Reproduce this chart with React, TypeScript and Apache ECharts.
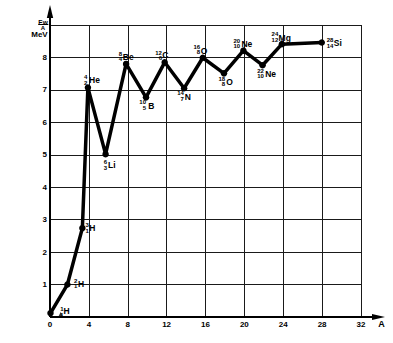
import React, { useEffect, useRef } from "react";
import * as echarts from "echarts";

// Mass number A (x) and binding energy per nucleon Ew/A in MeV (y)
const curveStart = [0.05, 0.12];
const nuclideX = [1.1, 1.79, 3.33, 3.9, 5.72, 7.83, 9.88, 11.8, 13.8, 15.72, 17.9, 19.9, 21.87, 23.86, 27.96];
const nuclideE = [0.06, 1.0, 2.74, 7.07, 5.02, 7.8, 6.77, 7.85, 7.05, 7.99, 7.51, 8.21, 7.76, 8.41, 8.46];
const nuclideMass = [1, 2, 3, 4, 6, 8, 10, 12, 14, 16, 18, 20, 22, 24, 28];
const nuclideZ = [1, 1, 1, 2, 3, 4, 5, 6, 7, 8, 8, 10, 10, 12, 14];
const nuclideSym = ["H", "H", "H", "He", "Li", "Be", "B", "C", "N", "O", "O", "Ne", "Ne", "Mg", "Si"];

const xTicks = { min: 0, max: 32, interval: 4 };
const yTicks = { min: 0, max: 9, interval: 1 };

// label placement (px offsets from the point): numbers right edge nr, center ny; symbol left sx, center sy
const labelPlacement = [
  { nr: 2.8, ny: -3, sx: 2.8, sy: -3.7 },
  { nr: 10, ny: -0.8, sx: 10.7, sy: -0.5 },
  { nr: 6.6, ny: 0, sx: 7, sy: -0.5 },
  { nr: -0.5, ny: -7.5, sx: 1.1, sy: -7.5 },
  { nr: 1.4, ny: 11, sx: 2.4, sy: 10.7 },
  { nr: -4, ny: -7.7, sx: -3.3, sy: -6.8 },
  { nr: 0, ny: 7.7, sx: 2.3, sy: 8.2 },
  { nr: -2.7, ny: -7, sx: -2.4, sy: -7.8 },
  { nr: -0.3, ny: 7.9, sx: 0.7, sy: 8.5 },
  { nr: -2.6, ny: -8.4, sx: -2, sy: -6.7 },
  { nr: 1.2, ny: 8.4, sx: 2.4, sy: 8.7 },
  { nr: -3.3, ny: -7.4, sx: -2, sy: -7 },
  { nr: 1.3, ny: 8, sx: 2.6, sy: 8.7 },
  { nr: -3.6, ny: -7.3, sx: -3.3, sy: -6.5 },
  { nr: 11.7, ny: 0.3, sx: 12, sy: 0.7 },
];

const FONT = '"Liberation Sans", Arial, Helvetica, sans-serif';
const INK = "#000";

export default function App() {
  const ref = useRef<HTMLDivElement>(null);

  useEffect(() => {
    if (!ref.current) return;
    const chart = echarts.init(ref.current, null, { renderer: "svg" });

    const lineData: number[][] = [curveStart];
    for (let i = 1; i < nuclideX.length; i++) lineData.push([nuclideX[i], nuclideE[i]]);
    const pointData = nuclideX.map((x, i) => [x, nuclideE[i]]);

    const axisLabel = {
      color: INK,
      fontFamily: FONT,
      fontSize: 8,
      fontWeight: "bold" as const,
      margin: 3,
    };
    const splitLine = { show: true, lineStyle: { color: "#1a1a1a", width: 1 } };

    chart.setOption({
      animation: false,
      backgroundColor: "#fff",
      grid: { left: 50, right: 32, top: 25, bottom: 26, containLabel: false },
      xAxis: {
        type: "value",
        min: xTicks.min,
        max: xTicks.max,
        interval: xTicks.interval,
        axisLine: { show: false },
        axisTick: { show: false },
        axisLabel: { ...axisLabel, formatter: (v: number) => String(v) },
        splitLine,
      },
      yAxis: {
        type: "value",
        min: yTicks.min,
        max: yTicks.max,
        interval: yTicks.interval,
        axisLine: { show: false },
        axisTick: { show: false },
        axisLabel: {
          ...axisLabel,
          formatter: (v: number) => (v === yTicks.min || v === yTicks.max ? "" : String(v)),
        },
        splitLine,
      },
      series: [
        {
          type: "line",
          data: lineData,
          symbol: "circle",
          symbolSize: 6.5,
          showSymbol: true,
          itemStyle: { color: "#000" },
          lineStyle: { color: "#000", width: 3.5 },
          clip: false,
          z: 5,
        },
        {
          type: "scatter",
          data: [pointData[0]],
          symbol: "triangle",
          symbolSize: 6,
          itemStyle: { color: "#000" },
          z: 6,
        },
        {
          type: "custom",
          data: pointData,
          encode: { x: 0, y: 1 },
          clip: false,
          z: 7,
          renderItem: (params: any, api: any) => {
            const i = params.dataIndex;
            const p = api.coord([api.value(0), api.value(1)]);
            const pl = labelPlacement[i];
            const numStyle = {
              fill: INK,
              fontFamily: FONT,
              fontSize: 6,
              fontWeight: "bold",
              textAlign: "right",
              textVerticalAlign: "middle",
            };
            return {
              type: "group",
              children: [
                {
                  type: "text",
                  style: { ...numStyle, text: String(nuclideMass[i]), x: p[0] + pl.nr, y: p[1] + pl.ny - 2.7 },
                },
                {
                  type: "text",
                  style: { ...numStyle, text: String(nuclideZ[i]), x: p[0] + pl.nr, y: p[1] + pl.ny + 2.7 },
                },
                {
                  type: "text",
                  style: {
                    fill: INK,
                    fontFamily: FONT,
                    fontSize: 8.5,
                    fontWeight: "bold",
                    textAlign: "left",
                    textVerticalAlign: "middle",
                    text: nuclideSym[i],
                    x: p[0] + pl.sx,
                    y: p[1] + pl.sy,
                  },
                },
              ],
            };
          },
        },
      ],
    });

    const o = chart.convertToPixel({ gridIndex: 0 }, [xTicks.min, yTicks.min]) as number[];
    const top = chart.convertToPixel({ gridIndex: 0 }, [xTicks.min, yTicks.max]) as number[];
    const ox = o[0];
    const oy = o[1];
    const yTip = 5;
    const xTip = 385;

    chart.setOption({
      graphic: [
        { type: "line", shape: { x1: ox, y1: oy, x2: ox, y2: yTip + 8 }, style: { stroke: "#000", lineWidth: 2 }, z: 10 },
        { type: "polygon", shape: { points: [[ox, yTip], [ox - 3.2, yTip + 13], [ox + 3.2, yTip + 13]] }, style: { fill: "#000" }, z: 10 },
        { type: "line", shape: { x1: ox, y1: oy, x2: xTip - 8, y2: oy }, style: { stroke: "#000", lineWidth: 2 }, z: 10 },
        { type: "polygon", shape: { points: [[xTip, oy], [xTip - 13, oy - 3], [xTip - 13, oy + 3]] }, style: { fill: "#000" }, z: 10 },
        {
          type: "text",
          style: { text: "A", x: 381.5, y: oy + 6.5, fill: INK, fontFamily: FONT, fontSize: 9, fontWeight: "bold", textAlign: "center", textVerticalAlign: "middle" },
          z: 10,
        },
        {
          type: "text",
          style: { text: "Ew", x: 43, y: top[1] - 3, fill: INK, fontFamily: FONT, fontSize: 6.5, fontWeight: "bold", textAlign: "center", textVerticalAlign: "middle" },
          z: 10,
        },
        { type: "line", shape: { x1: 38.3, y1: top[1] - 0.5, x2: 48.3, y2: top[1] - 0.5 }, style: { stroke: "#000", lineWidth: 1 }, z: 10 },
        {
          type: "text",
          style: { text: "A", x: 43, y: top[1] + 2.6, fill: INK, fontFamily: FONT, fontSize: 6, fontWeight: "bold", textAlign: "center", textVerticalAlign: "middle" },
          z: 10,
        },
        {
          type: "text",
          style: { text: "MeV", x: 47.7, y: top[1] + 9.5, fill: INK, fontFamily: FONT, fontSize: 8, fontWeight: "bold", textAlign: "right", textVerticalAlign: "middle" },
          z: 10,
        },
      ],
    });

    return () => chart.dispose();
  }, []);

  return <div ref={ref} style={{ position: "fixed", left: 0, top: 0, width: 393, height: 343 }} />;
}
